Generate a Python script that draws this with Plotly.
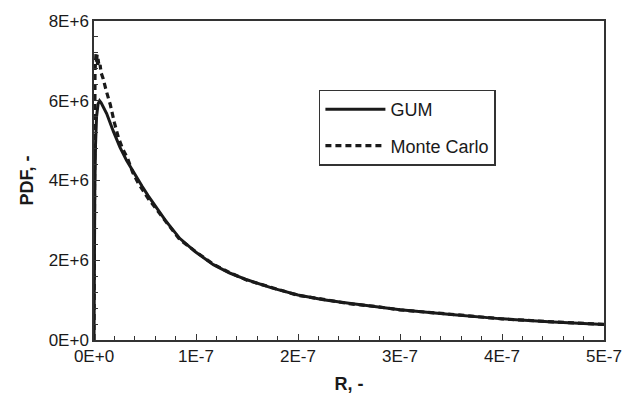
import plotly.graph_objects as go

# GUM (analytical) probability density of R
r_gum = [0, 0.3e-9, 0.8e-9, 1.5e-9, 2.5e-9, 4e-9, 5.5e-9, 7e-9, 9e-9, 12.4e-9,
         19e-9, 25.5e-9, 32e-9, 40e-9, 47e-9, 53e-9, 60e-9, 70e-9, 84e-9, 100e-9,
         117e-9, 133e-9, 150e-9, 175e-9, 200e-9, 225e-9, 250e-9, 275e-9, 300e-9,
         350e-9, 400e-9, 450e-9, 500e-9]
pdf_gum = [0, 2.0e6, 3.8e6, 4.9e6, 5.6e6, 5.92e6, 6.0e6, 5.95e6, 5.85e6, 5.68e6,
           5.23e6, 4.83e6, 4.50e6, 4.15e6, 3.86e6, 3.62e6, 3.36e6, 3.0e6, 2.55e6, 2.2e6,
           1.89e6, 1.68e6, 1.51e6, 1.30e6, 1.13e6, 1.01e6, 0.92e6, 0.84e6, 0.76e6,
           0.64e6, 0.53e6, 0.45e6, 0.39e6]

# Monte Carlo estimate of the same density
r_mc = [0, 0.2e-9, 0.5e-9, 1.0e-9, 1.5e-9, 2.0e-9, 2.5e-9, 3.0e-9, 3.5e-9, 4.0e-9,
        5.0e-9, 6.0e-9, 7.0e-9, 9e-9, 12e-9, 16e-9, 20e-9, 24e-9, 28e-9, 33e-9,
        38e-9, 43e-9, 48e-9, 53e-9, 60e-9, 70e-9, 84e-9, 100e-9, 117e-9, 133e-9,
        150e-9, 175e-9, 200e-9, 225e-9, 250e-9, 275e-9, 300e-9, 350e-9, 400e-9,
        450e-9, 500e-9]
pdf_mc = [0, 3.0e6, 5.5e6, 6.7e6, 7.0e6, 7.2e6, 6.95e6, 7.15e6, 6.9e6, 7.05e6,
          6.85e6, 6.9e6, 6.7e6, 6.55e6, 6.25e6, 5.9e6, 5.45e6, 5.07e6, 4.8e6, 4.55e6,
          4.2e6, 3.95e6, 3.75e6, 3.55e6, 3.32e6, 2.98e6, 2.52e6, 2.21e6, 1.90e6, 1.69e6,
          1.50e6, 1.31e6, 1.12e6, 1.02e6, 0.91e6, 0.845e6, 0.755e6, 0.645e6, 0.53e6,
          0.455e6, 0.39e6]

x_ticks = [0, 1e-7, 2e-7, 3e-7, 4e-7, 5e-7]
x_labels = ["0E+0", "1E-7", "2E-7", "3E-7", "4E-7", "5E-7"]
y_ticks = [0, 2e6, 4e6, 6e6, 8e6]
y_labels = ["0E+0", "2E+6", "4E+6", "6E+6", "8E+6"]

FONT = "Liberation Sans, Arial, sans-serif"
INK = "#1a1a1a"
AXIS = "#333333"

fig = go.Figure()
fig.add_trace(go.Scatter(
    x=r_gum, y=pdf_gum, mode="lines", name="GUM", legendgroup="gum",
    line=dict(color=INK, width=3),
))
fig.add_trace(go.Scatter(
    x=r_mc, y=pdf_mc, mode="lines", name="Monte Carlo", legendgroup="mc",
    line=dict(color=INK, width=3.2, dash="6px,4px"),
))

axis_common = dict(
    showline=True, linecolor=AXIS, linewidth=1.5, mirror=True,
    ticks="inside", ticklen=6, tickwidth=1.2, tickcolor=AXIS,
    showgrid=False, zeroline=False,
    tickfont=dict(family=FONT, size=17, color=INK),
)

fig.update_xaxes(
    range=[0, 5e-7], tickvals=x_ticks, ticktext=x_labels,
    minor=dict(dtick=2e-8, ticks="inside", ticklen=4, tickwidth=1.2, tickcolor=AXIS),
    title=dict(text="<b>R, -</b>", font=dict(family=FONT, size=18, color=INK), standoff=12),
    **axis_common,
)
fig.update_yaxes(
    range=[0, 8e6], tickvals=y_ticks, ticktext=y_labels,
    minor=dict(dtick=4e5, ticks="inside", ticklen=4, tickwidth=1.2, tickcolor=AXIS),
    title=dict(text="<b>PDF, -</b>", font=dict(family=FONT, size=18, color=INK), standoff=10),
    **axis_common,
)

fig.update_layout(
    width=634, height=405,
    margin=dict(l=94, r=30, t=14, b=65),
    paper_bgcolor="white", plot_bgcolor="white",
    showlegend=True,
    legend=dict(
        x=0.441, y=0.785, xanchor="left", yanchor="top",
        bordercolor=AXIS, borderwidth=1.5, bgcolor="white",
        font=dict(family=FONT, size=18, color=INK),
        traceorder="grouped", tracegroupgap=10,
        itemwidth=60,
    ),
)

fig.write_html("out.html")
